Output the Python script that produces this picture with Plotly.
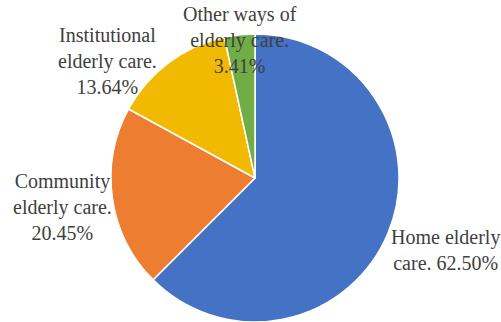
import plotly.graph_objects as go

categories = ["Home elderly care", "Community elderly care", "Institutional elderly care", "Other ways of elderly care"]
counts = [55, 18, 12, 3]
colors = ["#4472C4", "#ED7D31", "#F1BA00", "#70AD47"]

total = sum(counts)
pcts = [c / total * 100 for c in counts]

fig = go.Figure(go.Pie(
    labels=categories,
    values=counts,
    sort=False,
    direction="clockwise",
    rotation=0,
    textinfo="none",
    hoverinfo="label+percent",
    marker=dict(colors=colors, line=dict(color="white", width=1.5)),
    domain=dict(x=[(255 - 144) / 501, (255 + 144) / 501], y=[0, 288 / 322]),
    showlegend=False,
))

label_text = [
    f"Home elderly<br>care. {pcts[0]:.2f}%",
    f"Community<br>elderly care.<br>{pcts[1]:.2f}%",
    f"Institutional<br>elderly care.<br>{pcts[2]:.2f}%",
    f"Other ways of<br>elderly care.<br>{pcts[3]:.2f}%",
]
# (x center px, y center px)
label_pos = [(445, 250), (62, 207), (107, 61), (240, 40)]

for txt, (px, py) in zip(label_text, label_pos):
    fig.add_annotation(
        x=px / 501, y=1 - py / 322, xref="paper", yref="paper",
        text=txt, showarrow=False, xanchor="center", yanchor="middle",
        align="center",
        font=dict(family="Liberation Serif", size=20, color="#404040"),
    )

fig.update_layout(
    width=501, height=322,
    margin=dict(l=0, r=0, t=0, b=0),
    paper_bgcolor="white", plot_bgcolor="white",
)

fig.write_html("out.html")
